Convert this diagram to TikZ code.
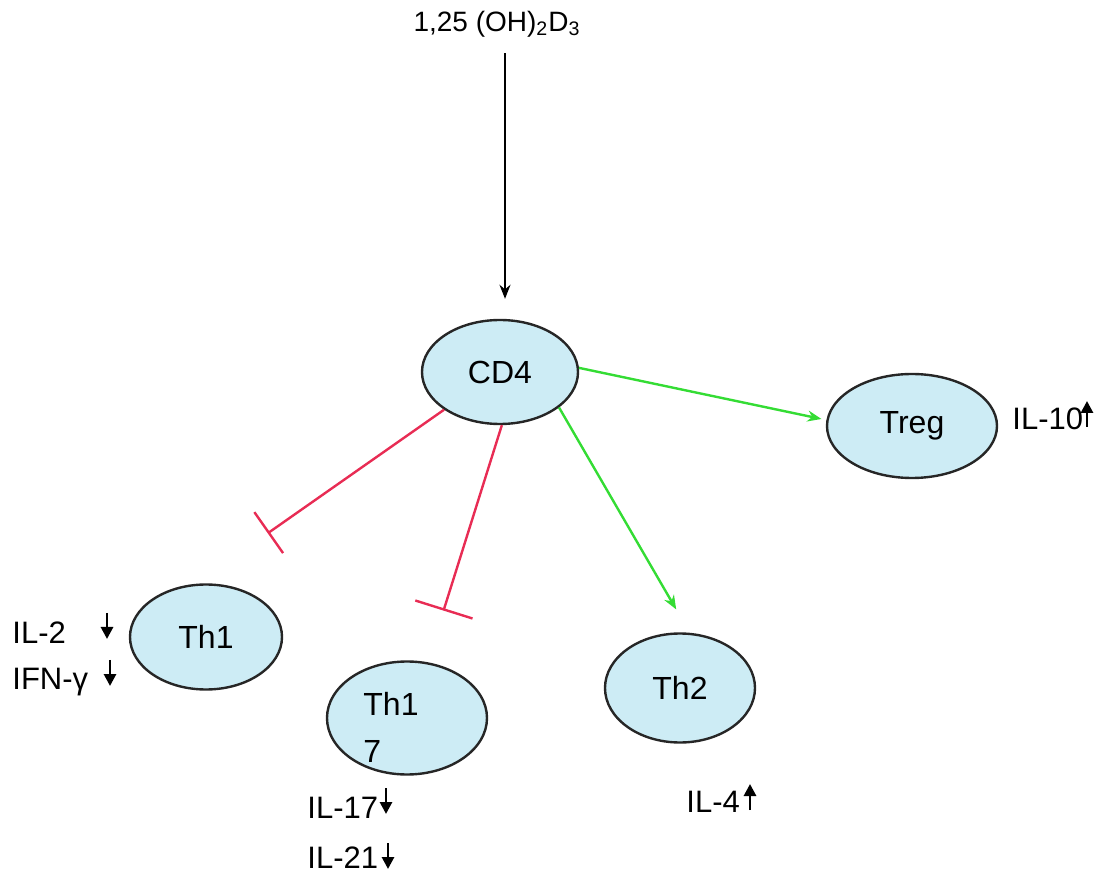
\documentclass[tikz,border=0pt]{standalone}
\usepackage{fontspec}
\setmainfont{Liberation Sans}
\usetikzlibrary{arrows.meta,shapes.geometric}

\definecolor{cellfill}{RGB}{205,236,245}
\definecolor{inhibit}{RGB}{232,44,84}
\definecolor{promote}{RGB}{52,220,52}

\tikzset{
  cell/.style={ellipse, draw=black!85, line width=1.2pt, fill=cellfill,
               inner sep=0pt, font=\fontsize{16}{23.5}\selectfont},
  lbl/.style={anchor=west, inner sep=0pt, font=\fontsize{15.5}{19}\selectfont},
  feed/.style={-{Stealth[length=7pt,width=5.5pt]}, line width=0.9pt, black},
  up/.style={-{Stealth[length=7pt,width=5.5pt]}, line width=1.2pt, promote},
  down/.style={line width=1.2pt, inhibit},
  trendtip/.style={-{Triangle[length=6pt,width=6pt]}, line width=1.4pt, black},
  % small bold up/down marks drawn next to the cytokine names
  fall/.pic={\draw[trendtip] (0,-13) -- (0,13);},
  rise/.pic={\draw[trendtip] (0,13) -- (0,-13);}
}

\begin{document}
\begin{tikzpicture}[x=0.5pt,y=-0.5pt]
\useasboundingbox (0,0) rectangle (1103,876);

% cells
\node[cell, minimum width=78pt, minimum height=52pt] (cd4) at (500,372) {CD4};
\node[cell, minimum width=85pt, minimum height=52pt] (treg) at (912,426) {Treg};
\node[cell, minimum width=76pt, minimum height=52.5pt] (th1) at (206,637) {Th1};
\node[cell, minimum width=80pt, minimum height=56.5pt] (th17) at (407,718) {};
\node[cell, minimum width=75pt, minimum height=54.5pt] (th2) at (680,688) {Th2};
\node[align=left, inner sep=0pt, font=\fontsize{16}{23.5}\selectfont] (th17txt) at (391,727) {Th1\\7};

% vitamin D input
\node[inner sep=0pt, font=\fontsize{14}{17}\selectfont] (vitd) at (497,24) {1,25 (OH)\textsubscript{2}D\textsubscript{3}};
\draw[feed, shorten <=8pt, shorten >=10pt] (vitd.south -| cd4.north) ++(5,0) -- ([xshift=2.5pt]cd4.north);

% promoted lineages
\draw[up, shorten >=2.5pt] (cd4.3) -- (treg.176);
\draw[up, shorten >=13.5pt] (cd4.-31) -- (th2.80);

% suppressed lineages
\draw[down, -{Bar[width=25pt]}, shorten >=44pt] (cd4.214.6) -- (th1.101);
\draw[down, -{Bar[width=30pt]}, shorten >=27pt] (cd4.-88) -- (th17.70);

% cytokine read-outs
\node[lbl] (il2) at (12,633) {IL-2};
\pic at (107,626) {fall};
\node[lbl] (ifng) at (12,682) {IFN-γ};
\pic at (110,673) {fall};
\node[lbl] (il17) at (307,808) {IL-17};
\pic at (386,801) {fall};
\node[lbl] (il21) at (307,858) {IL-21};
\pic at (388,856) {fall};
\node[lbl] (il4) at (686,802) {IL-4};
\pic at (750,797) {rise};
\node[lbl] (il10) at (1012,419) {IL-10};
\pic at (1087,414) {rise};
\end{tikzpicture}
\end{document}
